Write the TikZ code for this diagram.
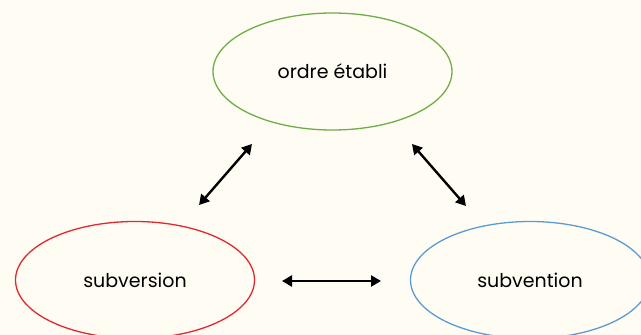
\documentclass[tikz,border=0pt]{standalone}
\usepackage{fontspec}
\setmainfont{Poppins}
\usetikzlibrary{shapes.geometric}
\usetikzlibrary{arrows.meta}

\definecolor{bgcream}{HTML}{FFFDF3}
\definecolor{ordregreen}{HTML}{70AD47}
\definecolor{subvred}{HTML}{E3262F}
\definecolor{subvblue}{HTML}{5B9BD5}

\tikzset{
  term/.style={ellipse,draw,line width=1.3pt,minimum width=239pt,minimum height=117pt,
    inner sep=0pt,font=\fontsize{19}{22}\selectfont},
  link/.style={line width=2.4pt,{Triangle[length=10pt,width=11pt]}-{Triangle[length=10pt,width=11pt]}}
}

\begin{document}
\begin{tikzpicture}[x=1pt,y=-1pt]
\fill[bgcream] (0,0) rectangle (641,335);
\useasboundingbox (0,0) rectangle (641,335);
\clip (0,0) rectangle (641,335);

\node[term,ordregreen] (ordre) at (332.5,71.5) {\textcolor{black}{ordre établi}};
\node[term,subvred] (subversion) at (135,280) {\textcolor{black}{subversion}};
\node[term,subvblue] (subvention) at (530,280) {\textcolor{black}{subvention}};

\coordinate (l1) at (199,205);
\coordinate (l2) at (252,144);
\coordinate (r1) at (412,144);
\coordinate (r2) at (466,206);
\coordinate (m1) at (282,281);
\coordinate (m2) at (381,281);

\draw[link] (l1) -- (l2);
\draw[link] (r1) -- (r2);
\draw[link] (m1) -- (m2);
\end{tikzpicture}
\end{document}
